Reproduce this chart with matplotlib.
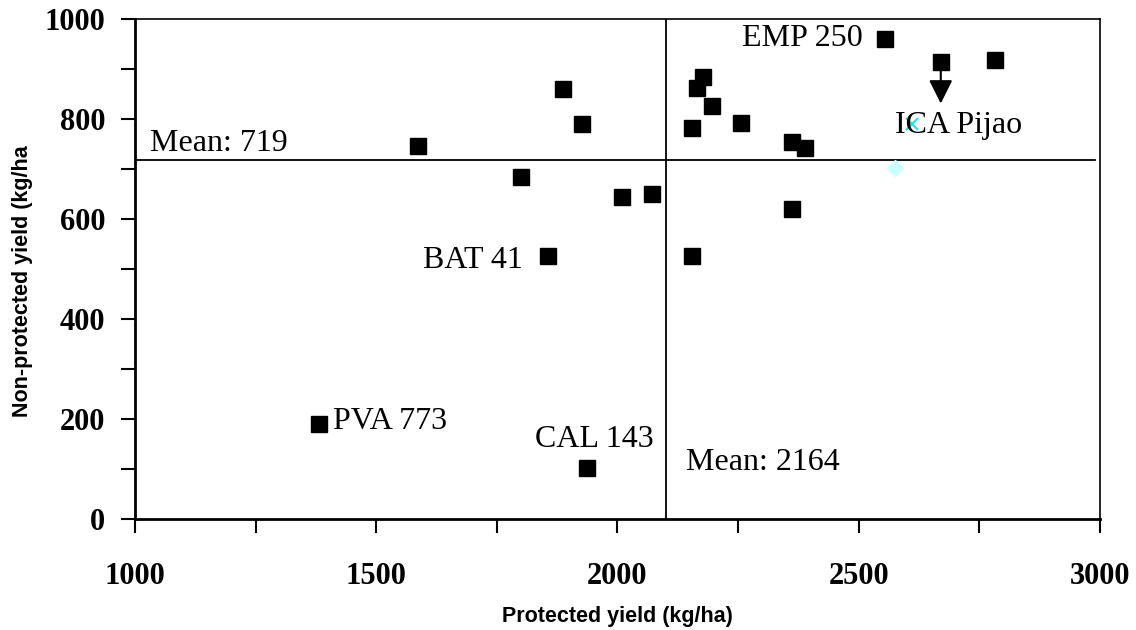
import matplotlib
matplotlib.use("Agg")
import matplotlib.pyplot as plt
from matplotlib.ticker import MultipleLocator

# Protected vs non-protected yield (kg/ha) for each line
protected = [1381, 1587, 1888, 1926, 1801, 2009, 2071, 1855, 1937,
             2554, 2178, 2165, 2195, 2154, 2257, 2361, 2389, 2361, 2154,
             2670, 2782]
non_protected = [190, 747, 861, 790, 685, 645, 651, 526, 101,
                 961, 885, 863, 826, 783, 793, 755, 743, 620, 526,
                 915, 918]

# ICA Pijao: moved point (cyan x) and its faint diamond
pijao_x = [2610]
pijao_y = [791]
diamond_x = [2575]
diamond_y = [703]

# arrow from the old position down toward ICA Pijao
arrow_from = (2670, 910)
arrow_to = (2670, 831)

mean_x_line = 2100
mean_y_line = 719

# labels: text, x, y, ha
labels = [
    ("PVA 773", 1410, 195, "left"),
    ("CAL 143", 1829, 158, "left"),
    ("BAT 41", 1804, 518, "right"),
    ("EMP 250", 2509, 962, "right"),
    ("ICA Pijao", 2575, 788, "left"),
    ("Mean: 2164", 2143, 112, "left"),
]

serif = "Liberation Serif"
sans = "Liberation Sans"

fig = plt.figure(figsize=(11.36, 6.30), dpi=100)
ax = fig.add_axes([0.1188, 0.1762, 0.8495, 0.7936])

ax.axvline(mean_x_line, color="black", lw=1.3, zorder=1)
ax.axhline(mean_y_line, xmax=0.995, color="black", lw=1.3, zorder=1)

ax.plot(protected, non_protected, "s", color="black", markersize=11, zorder=3)
ax.plot(diamond_x, diamond_y, "D", color="#ccffff", markersize=8, zorder=2)
ax.plot(pijao_x, pijao_y, "x", color="#33dddd", markersize=9, mew=1.5, zorder=2)

ax.annotate("", xy=arrow_to, xytext=arrow_from,
            arrowprops=dict(arrowstyle="-|>", color="black", lw=1.5,
                            mutation_scale=36, shrinkA=0, shrinkB=0))

for text, x, y, ha in labels:
    ax.text(x, y, text, ha=ha, va="center", fontsize=23, family=serif)
ax.text(1031, mean_y_line + 4, "Mean: 719", ha="left", va="bottom",
        fontsize=23, family=serif)

ax.set_xlim(1000, 3000)
ax.set_ylim(0, 1000)
ax.xaxis.set_major_locator(MultipleLocator(500))
ax.xaxis.set_minor_locator(MultipleLocator(250))
ax.yaxis.set_major_locator(MultipleLocator(200))
ax.yaxis.set_minor_locator(MultipleLocator(100))
ax.tick_params(which="both", direction="out", length=10, width=1.5)
ax.tick_params(axis="x", pad=21)
ax.tick_params(axis="y", pad=11.5)

for lab in ax.get_xticklabels() + ax.get_yticklabels():
    lab.set_fontfamily(serif)
    lab.set_fontweight("bold")
    lab.set_fontsize(22)

ax.spines["left"].set_linewidth(2)
ax.spines["bottom"].set_linewidth(2)
ax.spines["top"].set_linewidth(1.2)
ax.spines["right"].set_linewidth(1.2)

ax.set_xlabel("Protected yield (kg/ha)", fontsize=15.5, fontweight="bold",
              family=sans)
ax.set_ylabel("Non-protected yield (kg/ha", fontsize=15.5, fontweight="bold",
              family=sans)
ax.xaxis.set_label_coords(0.5, -0.174)
ax.yaxis.set_label_coords(-0.106, 0.476)

fig.savefig("out.png", dpi=100)
